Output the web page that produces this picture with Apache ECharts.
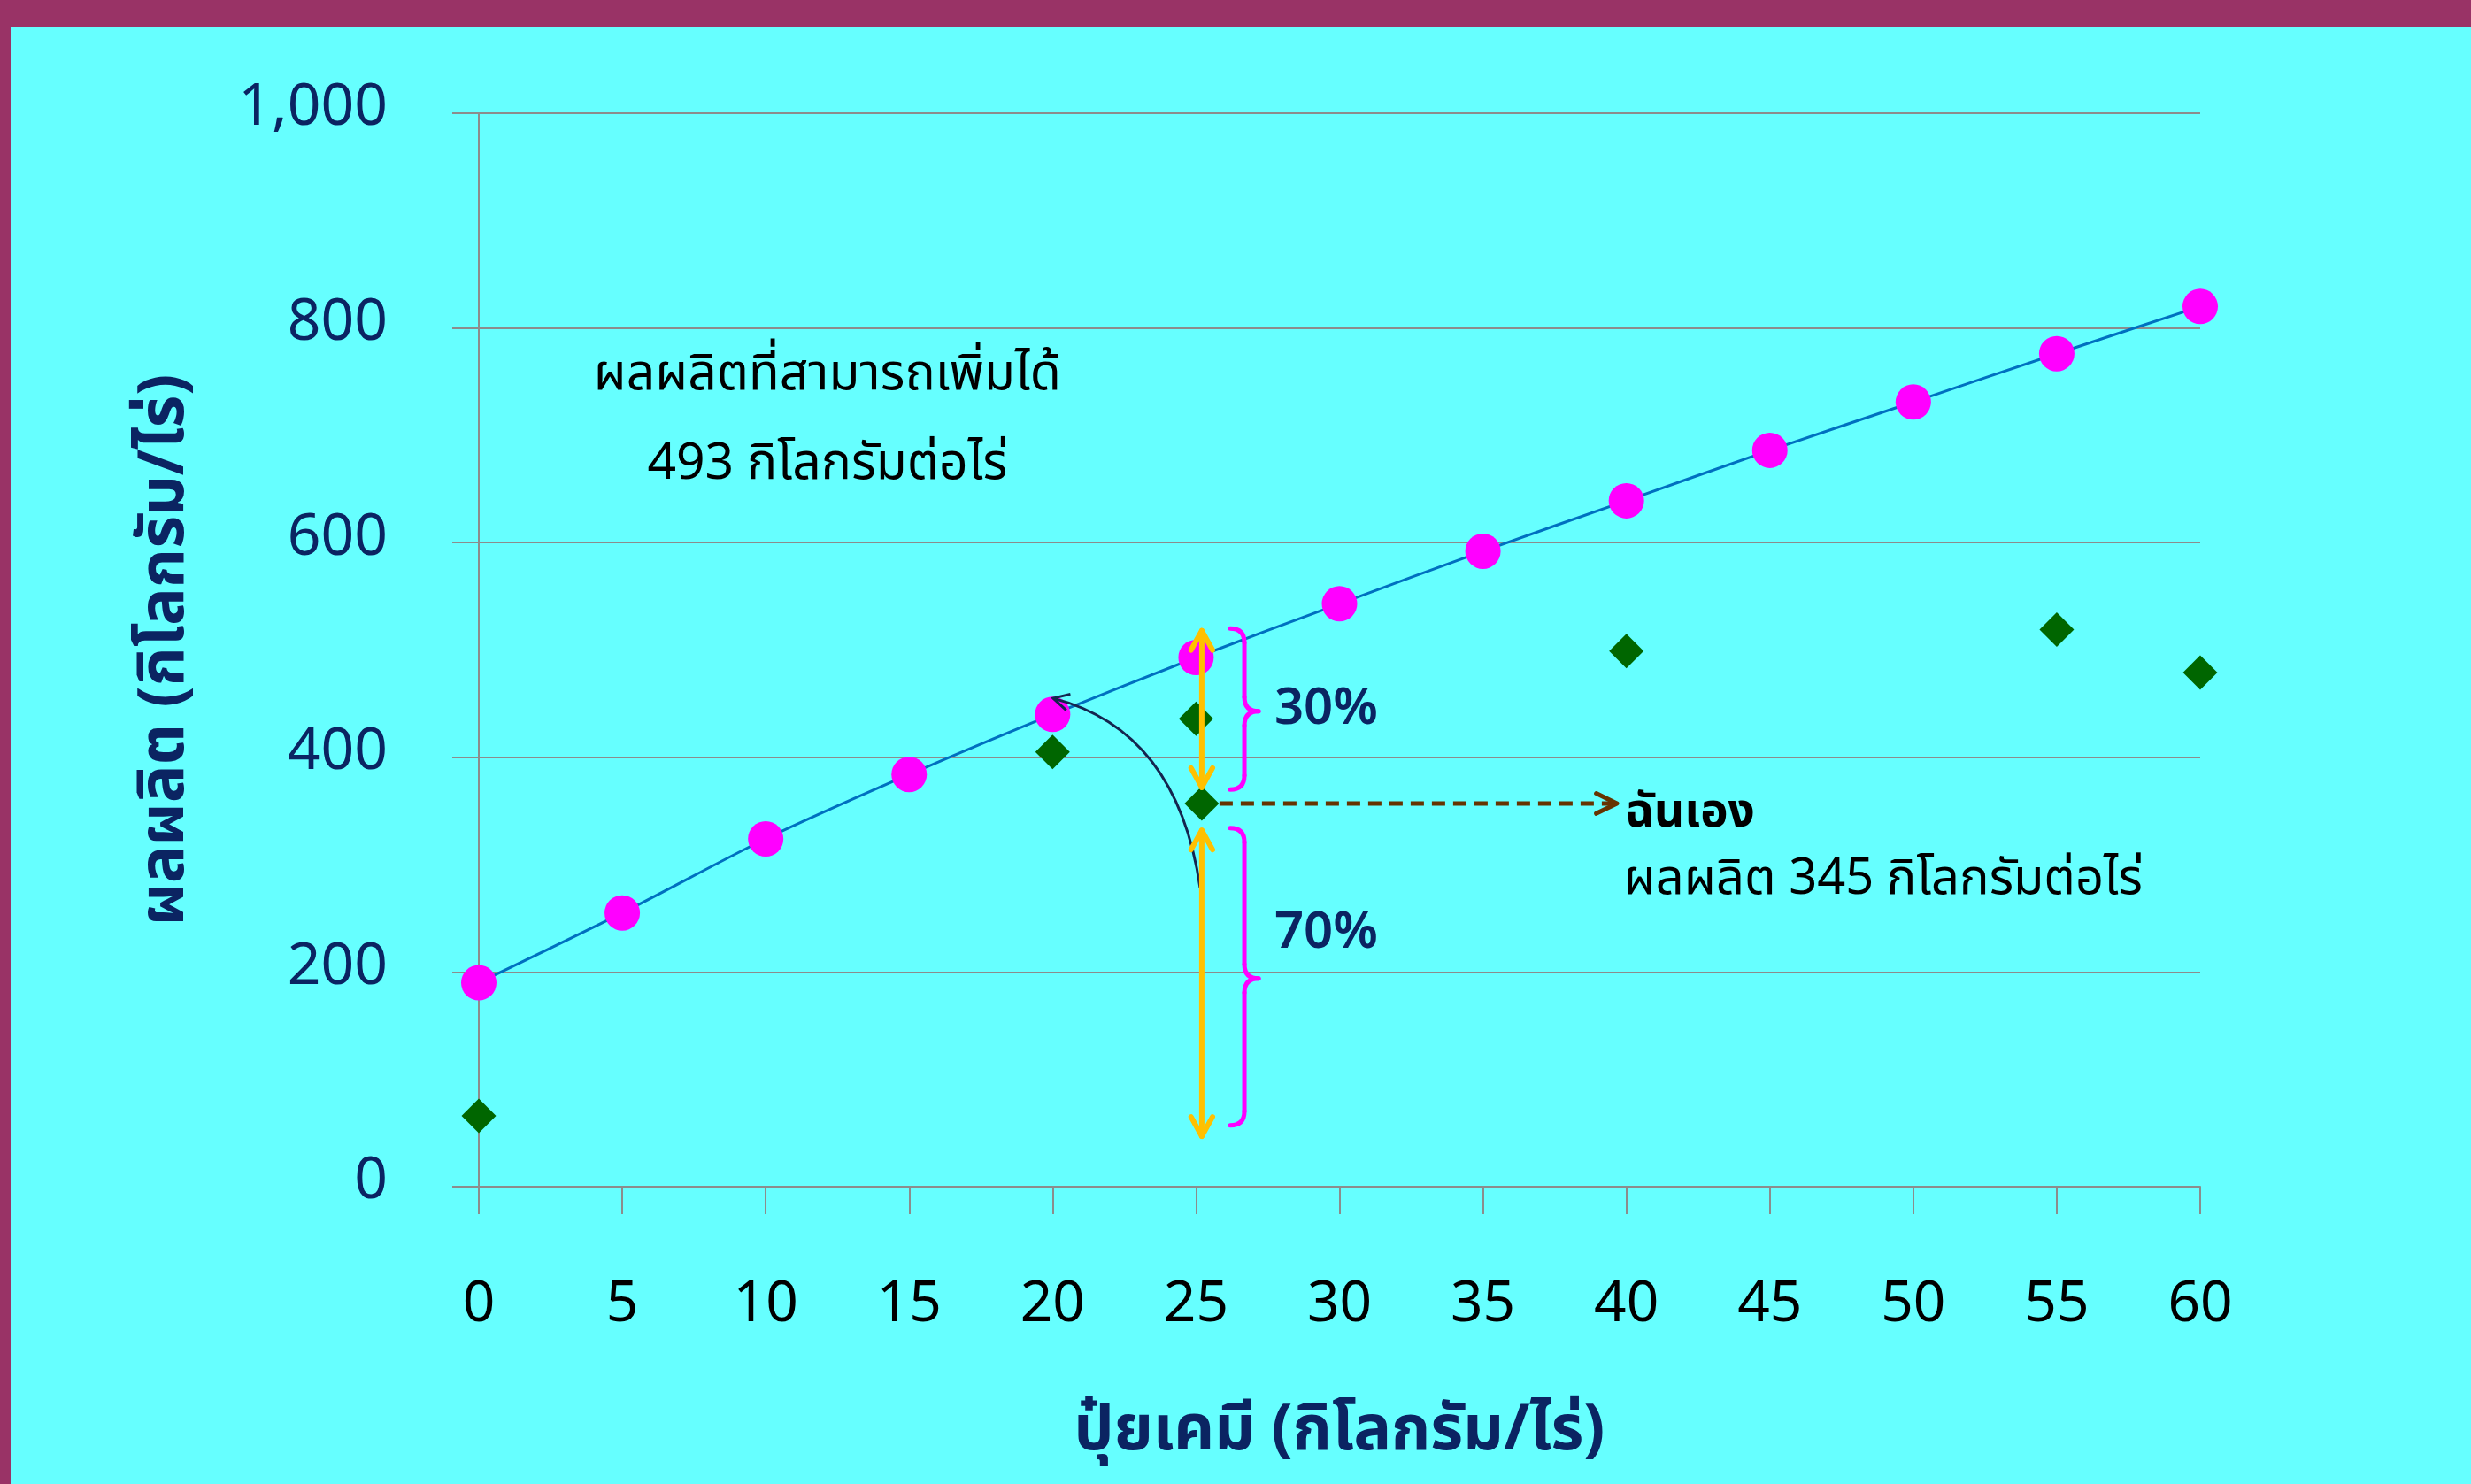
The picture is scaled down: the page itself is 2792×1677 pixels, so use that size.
<!DOCTYPE html>
<html>
<head>
<meta charset="utf-8">
<script src="https://cdn.jsdelivr.net/npm/echarts@6/dist/echarts.min.js"></script>
<style>
  html, body { margin: 0; padding: 0; width: 2792px; height: 1677px; background: #993366; overflow: hidden; }
  #chart { position: absolute; left: 12px; top: 30px; width: 2780px; height: 1647px; }
</style>
</head>
<body>
<div id="chart"></div>
<script>
// data
const fertilizer = [0, 5, 10, 15, 20, 25, 30, 35, 40, 45, 50, 55, 60]
const potentialYield = [190, 255, 324, 384, 440, 493, 543, 592, 639, 686, 731, 776, 820]
const farmFertilizer = [0, 20, 25, 40, 55, 60]
const farmYield = [66, 405, 436, 499, 519, 479]
const myFarm = [25.2, 357]
const yTickLabels = ['0', '200', '400', '600', '800', '1,000']

const FONT = "'Noto Sans Thai', 'Noto Sans', sans-serif"
const NAVY = '#0b2462'

const chart = echarts.init(document.getElementById('chart'))

chart.setOption({
  backgroundColor: '#66ffff',
  animation: false,
  grid: { left: 529, right: 306, top: 98, bottom: 336 },
  xAxis: {
    type: 'value',
    min: 0,
    max: 60,
    interval: 5,
    name: 'ปุ๋ยเคมี (กิโลกรัม/ไร่)',
    nameLocation: 'middle',
    nameGap: 247,
    nameTextStyle: { fontFamily: FONT, fontSize: 71, fontWeight: 'bold', color: NAVY },
    axisLine: { lineStyle: { color: '#8c8c8c', width: 2 } },
    axisTick: { length: 31, lineStyle: { color: '#8c8c8c', width: 2 } },
    axisLabel: { margin: 107, fontFamily: FONT, fontSize: 64, color: '#000' },
    splitLine: { show: false }
  },
  yAxis: {
    type: 'value',
    min: 0,
    max: 1000,
    interval: 200,
    name: 'ผลผลิต (กิโลกรัม/ไร่)',
    nameLocation: 'middle',
    nameRotate: 90,
    nameGap: 313,
    nameTextStyle: { fontFamily: FONT, fontSize: 71, fontWeight: 'bold', color: NAVY },
    axisLine: { show: true, lineStyle: { color: '#8c8c8c', width: 2 } },
    axisTick: { show: true, length: 30, lineStyle: { color: '#8c8c8c', width: 2 } },
    axisLabel: {
      margin: 103,
      fontFamily: FONT,
      fontSize: 66,
      color: NAVY,
      padding: [0, 0, 22, 0],
      formatter: v => yTickLabels[Math.round(v / 200)]
    },
    splitLine: { lineStyle: { color: '#8c8c8c', width: 2 } }
  },
  series: [
    {
      name: 'ศักยภาพ',
      type: 'line',
      data: fertilizer.map((x, i) => [x, potentialYield[i]]),
      smooth: 0.3,
      symbol: 'circle',
      symbolSize: 40,
      lineStyle: { color: '#0070c0', width: 3 },
      itemStyle: { color: '#ff00ff' },
      z: 3
    },
    {
      name: 'เกษตรกร',
      type: 'scatter',
      data: farmFertilizer.map((x, i) => [x, farmYield[i]]),
      symbol: 'diamond',
      symbolSize: 39,
      itemStyle: { color: '#006600', opacity: 1 },
      z: 2
    },
    {
      name: 'ฉันเอง',
      type: 'scatter',
      data: [myFarm],
      symbol: 'diamond',
      symbolSize: 39,
      itemStyle: { color: '#006600', opacity: 1 },
      z: 4
    }
  ]
})

// annotations, placed in data units and converted to pixels
const px = p => chart.convertToPixel({ gridIndex: 0 }, p)

function chevron(tip, from, len, halfAngle) {
  const dx = tip[0] - from[0], dy = tip[1] - from[1]
  const d = Math.hypot(dx, dy)
  const ux = dx / d, uy = dy / d
  const a = halfAngle * Math.PI / 180
  const arm = s => {
    const c = Math.cos(a), sn = Math.sin(a) * s
    const rx = -(ux * c - uy * sn), ry = -(uy * c + ux * sn)
    return [tip[0] + rx * len, tip[1] + ry * len]
  }
  return [arm(1), tip, arm(-1)]
}

function doubleArrow(x, yTop, yBottom, color) {
  const a = px([x, yTop]), b = px([x, yBottom])
  const style = { stroke: color, lineWidth: 6, fill: null, lineCap: 'round', lineJoin: 'round' }
  return [
    { type: 'line', shape: { x1: a[0], y1: a[1], x2: b[0], y2: b[1] }, style, z: 10 },
    { type: 'polyline', shape: { points: chevron(a, b, 25, 29) }, style, z: 10 },
    { type: 'polyline', shape: { points: chevron(b, a, 25, 29) }, style, z: 10 }
  ]
}

// right curly brace built from quadratic curves and straight pieces
function brace(xLeft, xTip, yTop, yMid, yBottom, color) {
  const l = px([xLeft, yTop])[0], t = px([xTip, yTop])[0]
  const v = (l + t) / 2
  const y0 = px([xLeft, yTop])[1], ym = px([xLeft, yMid])[1], y1 = px([xLeft, yBottom])[1]
  const r = 16
  const style = { stroke: color, lineWidth: 5, fill: null, lineCap: 'round' }
  const q = (x1, y1, cx, cy, x2, y2) => ({ type: 'bezierCurve', shape: { x1, y1, cpx1: cx, cpy1: cy, x2, y2 }, style, z: 10 })
  const ln = (x1, y1, x2, y2) => ({ type: 'line', shape: { x1, y1, x2, y2 }, style, z: 10 })
  return [
    q(l, y0, v, y0, v, y0 + r),
    ln(v, y0 + r, v, ym - r),
    q(v, ym - r, v, ym, t, ym),
    q(t, ym, v, ym, v, ym + r),
    ln(v, ym + r, v, y1 - r),
    q(v, y1 - r, v, y1, l, y1)
  ]
}

function label(text, at, opts) {
  const p = px(at)
  return {
    type: 'text',
    z: 12,
    style: Object.assign({
      text, x: p[0], y: p[1],
      fontFamily: FONT, fill: '#000',
      align: 'center', verticalAlign: 'middle'
    }, opts)
  }
}

const graphics = []

graphics.push(...doubleArrow(myFarm[0], 518, 372, '#ffc000'))
graphics.push(...doubleArrow(myFarm[0], 332, 47, '#ffc000'))

graphics.push(...brace(26.19, 27.18, 520, 443, 370, '#ff00ff'))
graphics.push(...brace(26.19, 27.18, 334, 194, 57, '#ff00ff'))

// dashed arrow to "me" label
{
  const a = px([myFarm[0], myFarm[1]]), b = px([39.67, myFarm[1]])
  const style = { stroke: '#663300', lineWidth: 5, fill: null }
  graphics.push({ type: 'line', shape: { x1: a[0] + 20, y1: a[1], x2: b[0] - 3, y2: b[1] },
    style: Object.assign({ lineDash: [15, 9] }, style), z: 9 })
  graphics.push({ type: 'polyline', shape: { points: chevron(b, a, 26, 26) },
    style: Object.assign({ lineCap: 'round', lineJoin: 'round' }, style), z: 9 })
}

// curved arrow from the gap back up to the 20 kg point
{
  const s = px([25.14, 278.6]), c = px([24.34, 425.3]), e = px([20.02, 455])
  const style = { stroke: '#15254f', lineWidth: 3, fill: null }
  graphics.push({ type: 'bezierCurve', shape: { x1: s[0], y1: s[1], x2: e[0], y2: e[1], cpx1: c[0], cpy1: c[1] }, style, z: 9 })
  graphics.push({ type: 'polyline', shape: { points: chevron(e, c, 20, 28) }, style, z: 9 })
}

graphics.push(label('ผลผลิตที่สามารถเพิ่มได้', [12.15, 752], { fontSize: 57 }))
graphics.push(label('493 กิโลกรัมต่อไร่', [12.15, 669], { fontSize: 57 }))
graphics.push(label('30%', [27.73, 441], { fontSize: 58, fontWeight: 600, fill: NAVY, align: 'left' }))
graphics.push(label('70%', [27.73, 232], { fontSize: 58, fontWeight: 600, fill: NAVY, align: 'left' }))
graphics.push(label('ฉันเอง', [39.95, 344], { fontSize: 53, fontWeight: 'bold', align: 'left' }))
graphics.push(label('ผลผลิต 345 กิโลกรัมต่อไร่', [39.9, 282], { fontSize: 56, align: 'left' }))

chart.setOption({ graphic: graphics })
</script>
</body>
</html>
